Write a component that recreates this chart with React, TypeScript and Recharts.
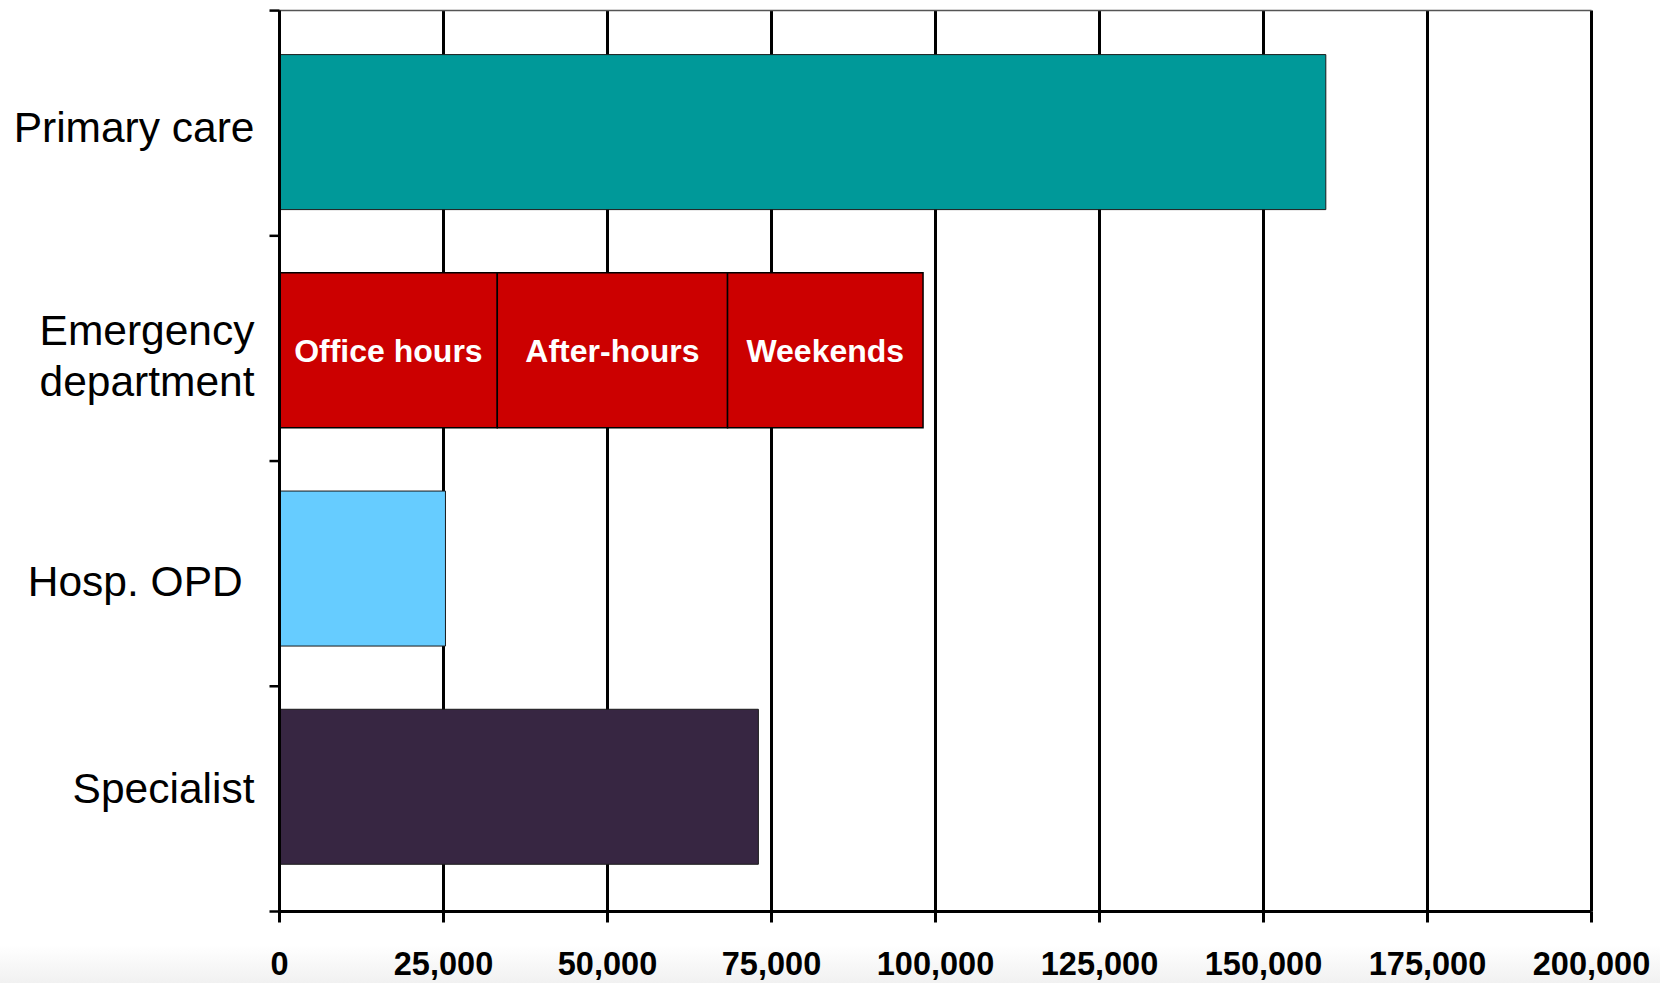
import React from "react";
import {
  Bar,
  BarChart,
  CartesianGrid,
  Cell,
  LabelList,
  XAxis,
  YAxis,
} from "recharts";

// categories top to bottom; "\n" splits a label over two lines
const categories = ["Primary care", "Emergency\ndepartment", "Hosp. OPD\u00A0", "Specialist"];
// single-colour bars (the ED row is drawn as three segments instead)
const visits = [159500, null, 25300, 73000];
const barColors = ["#009999", "#CC0000", "#66CCFF", "#372642"];
// emergency department split
const edSegments = ["Office hours", "After-hours", "Weekends"];
const edValues = [33200, 35100, 29800];
const edRow = 1;
const xTicks = [0, 25000, 50000, 75000, 100000, 125000, 150000, 175000, 200000];

const FONT = '"Liberation Sans", Arial, Helvetica, sans-serif';
// the original's labels sit a little off the bar centres
const LABEL_NUDGE = [-5, 6, 13, 2];

const data = categories.map((name, i) => {
  const row: Record<string, string | number | null> = { name, visits: visits[i] };
  edSegments.forEach((_, k) => {
    row[`seg${k}`] = i === edRow ? edValues[k] : null;
  });
  return row;
});

function CategoryTick({ x, y, payload, index }: any) {
  const lines = String(payload.value).split("\n");
  const lineHeight = 51;
  const start = y + (LABEL_NUDGE[index] ?? 0) - ((lines.length - 1) * lineHeight) / 2;
  return (
    <text x={x} y={start} textAnchor="end" fontSize={42.5} fontFamily={FONT} fill="#000">
      {lines.map((line, i) => (
        <tspan key={i} x={x} y={start + i * lineHeight} dy="0.35em">
          {line}
        </tspan>
      ))}
    </text>
  );
}

// tick marks sit on the category boundaries, not the band centres
function BoundaryTick({ x, y, payload, index, visibleTicksCount }: any) {
  const half = payload?.offset ?? 0;
  const edges = [y - half];
  if (index === visibleTicksCount - 1) edges.push(y + half);
  return (
    <g>
      {edges.map((ey, i) => (
        <line key={i} x1={x - 10} x2={x} y1={ey} y2={ey} stroke="#000" strokeWidth={2.5} />
      ))}
    </g>
  );
}

export default function App() {
  return (
    <div style={{ position: "absolute", left: 0, top: 0, width: 1660, height: 983, background: "#fff" }}>
      <div
        style={{
          position: "absolute",
          left: 0,
          top: 945,
          width: 1660,
          height: 38,
          background: "linear-gradient(#ffffff, #f1f1f1)",
        }}
      />
      <div style={{ position: "absolute", left: 0, top: 0 }}>
        <BarChart
          width={1660}
          height={983}
          data={data}
          layout="vertical"
          margin={{ top: 9.6, right: 68.5, bottom: 0, left: 0 }}
        >
          <CartesianGrid
            horizontal={false}
            stroke="#000"
            strokeWidth={3}
            yAxisId="labels"
          />
          <XAxis
            type="number"
            domain={[0, 200000]}
            ticks={xTicks}
            height={71.5}
            tickFormatter={(v: number) => v.toLocaleString("en-US")}
            tick={{ fontSize: 32.5, fontWeight: 700, fontFamily: FONT, fill: "#000" }}
            tickSize={11}
            tickMargin={29}
            axisLine={{ stroke: "#000", strokeWidth: 3 }}
            tickLine={{ stroke: "#000", strokeWidth: 3 }}
            interval={0}
          />
          <XAxis
            xAxisId="top"
            orientation="top"
            type="number"
            domain={[0, 200000]}
            height={1}
            tick={false}
            tickLine={false}
            axisLine={{ stroke: "#555", strokeWidth: 1.5 }}
          />
          <YAxis
            yAxisId="axis"
            type="category"
            dataKey="name"
            width={1}
            tickSize={0}
            tickMargin={0}
            tickLine={false}
            tick={<BoundaryTick />}
            axisLine={{ stroke: "#000", strokeWidth: 3 }}
            interval={0}
          />
          <YAxis
            yAxisId="labels"
            type="category"
            dataKey="name"
            width={278.5}
            padding={{ top: 12, bottom: 16 }}
            axisLine={false}
            tickLine={false}
            tickSize={0}
            tickMargin={24}
            tick={<CategoryTick />}
            interval={0}
          />
          <Bar
            dataKey="visits"
            stackId="a"
            yAxisId="labels"
            barSize={155}
            stroke="#1a1a1a"
            strokeWidth={1}
            isAnimationActive={false}
          >
            {data.map((_, i) => (
              <Cell key={i} fill={barColors[i]} />
            ))}
          </Bar>
          {edSegments.map((seg, k) => (
            <Bar
              key={seg}
              dataKey={`seg${k}`}
              stackId="a"
              yAxisId="labels"
              barSize={155}
              fill={barColors[edRow]}
              stroke="#000"
              strokeWidth={1.5}
              isAnimationActive={false}
            >
              <LabelList
                dataKey={`seg${k}`}
                position="center"
                formatter={(v: any) => (v ? seg : "")}
                fill="#fff"
                fontSize={32}
                fontWeight={700}
                fontFamily={FONT}
              />
            </Bar>
          ))}
        </BarChart>
      </div>
    </div>
  );
}
